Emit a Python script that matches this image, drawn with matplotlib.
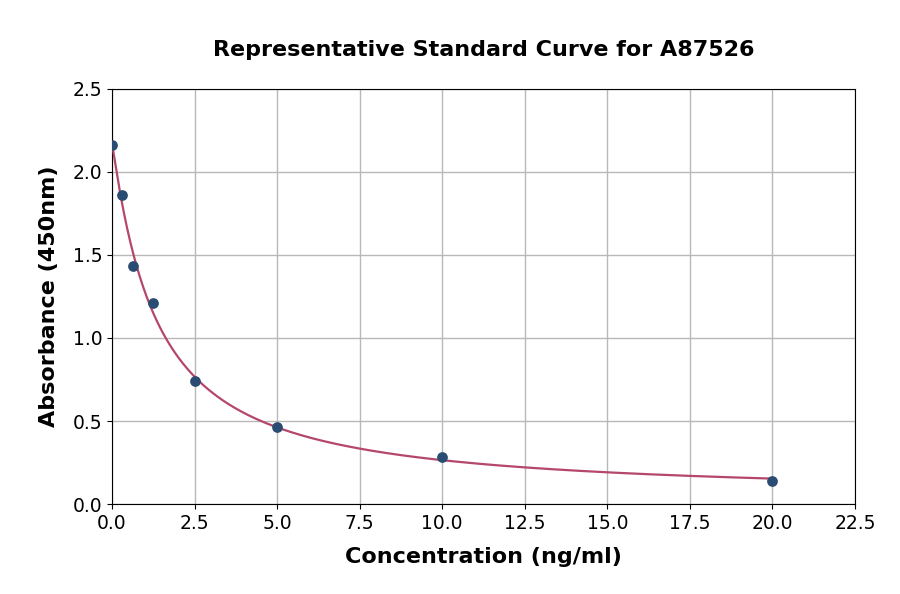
import numpy as np
import matplotlib
matplotlib.use("Agg")
import matplotlib.pyplot as plt

conc = [0.0, 0.3125, 0.625, 1.25, 2.5, 5.0, 10.0, 20.0]
absorb = [2.163, 1.861, 1.434, 1.211, 0.741, 0.464, 0.283, 0.139]
xticks = [0.0, 2.5, 5.0, 7.5, 10.0, 12.5, 15.0, 17.5, 20.0, 22.5]
yticks = [0.0, 0.5, 1.0, 1.5, 2.0, 2.5]

x = np.array(conc)
y = np.array(absorb)

# 4PL fit: y = d + (a-d)/(1+(x/c)^b); grid search over b,c, linear LSQ for a,d
best = None
for b in np.linspace(0.5, 2.0, 151):
    for c in np.linspace(0.3, 6.0, 229):
        g = 1.0 / (1.0 + (x / c) ** b)
        A = np.vstack([g, 1 - g]).T
        coef, *_ = np.linalg.lstsq(A, y, rcond=None)
        r = np.sum((A @ coef - y) ** 2)
        if best is None or r < best[0]:
            best = (r, b, c, coef)
_, b, c, (a, d) = best
xf = np.linspace(0, max(conc), 400)
yf = d + (a - d) / (1 + (xf / c) ** b)

fig = plt.figure(figsize=(9, 5.94), dpi=100)
ax = fig.add_axes([0.1244, 0.1515, 0.8256, 0.6987])
ax.plot(xf, yf, color="#b5476b", lw=1.6, zorder=3)
ax.scatter(conc, absorb, s=45, color="#2b4c72", zorder=4)
ax.set_xlim(0, 22.5)
ax.set_ylim(0, 2.5)
ax.set_xticks(xticks)
ax.set_yticks(yticks)
ax.set_xticklabels([f"{v:.1f}" for v in xticks])
ax.set_yticklabels([f"{v:.1f}" for v in yticks])
ax.tick_params(labelsize=13.5)
ax.grid(True, color="#b8b8b8", lw=1)
ax.set_axisbelow(True)
ax.set_title("Representative Standard Curve for A87526", fontsize=16, fontweight="bold", pad=24)
ax.set_xlabel("Concentration (ng/ml)", fontsize=16, fontweight="bold", labelpad=10)
ax.set_ylabel("Absorbance (450nm)", fontsize=16, fontweight="bold", labelpad=10)
fig.savefig("out.png", dpi=100)
